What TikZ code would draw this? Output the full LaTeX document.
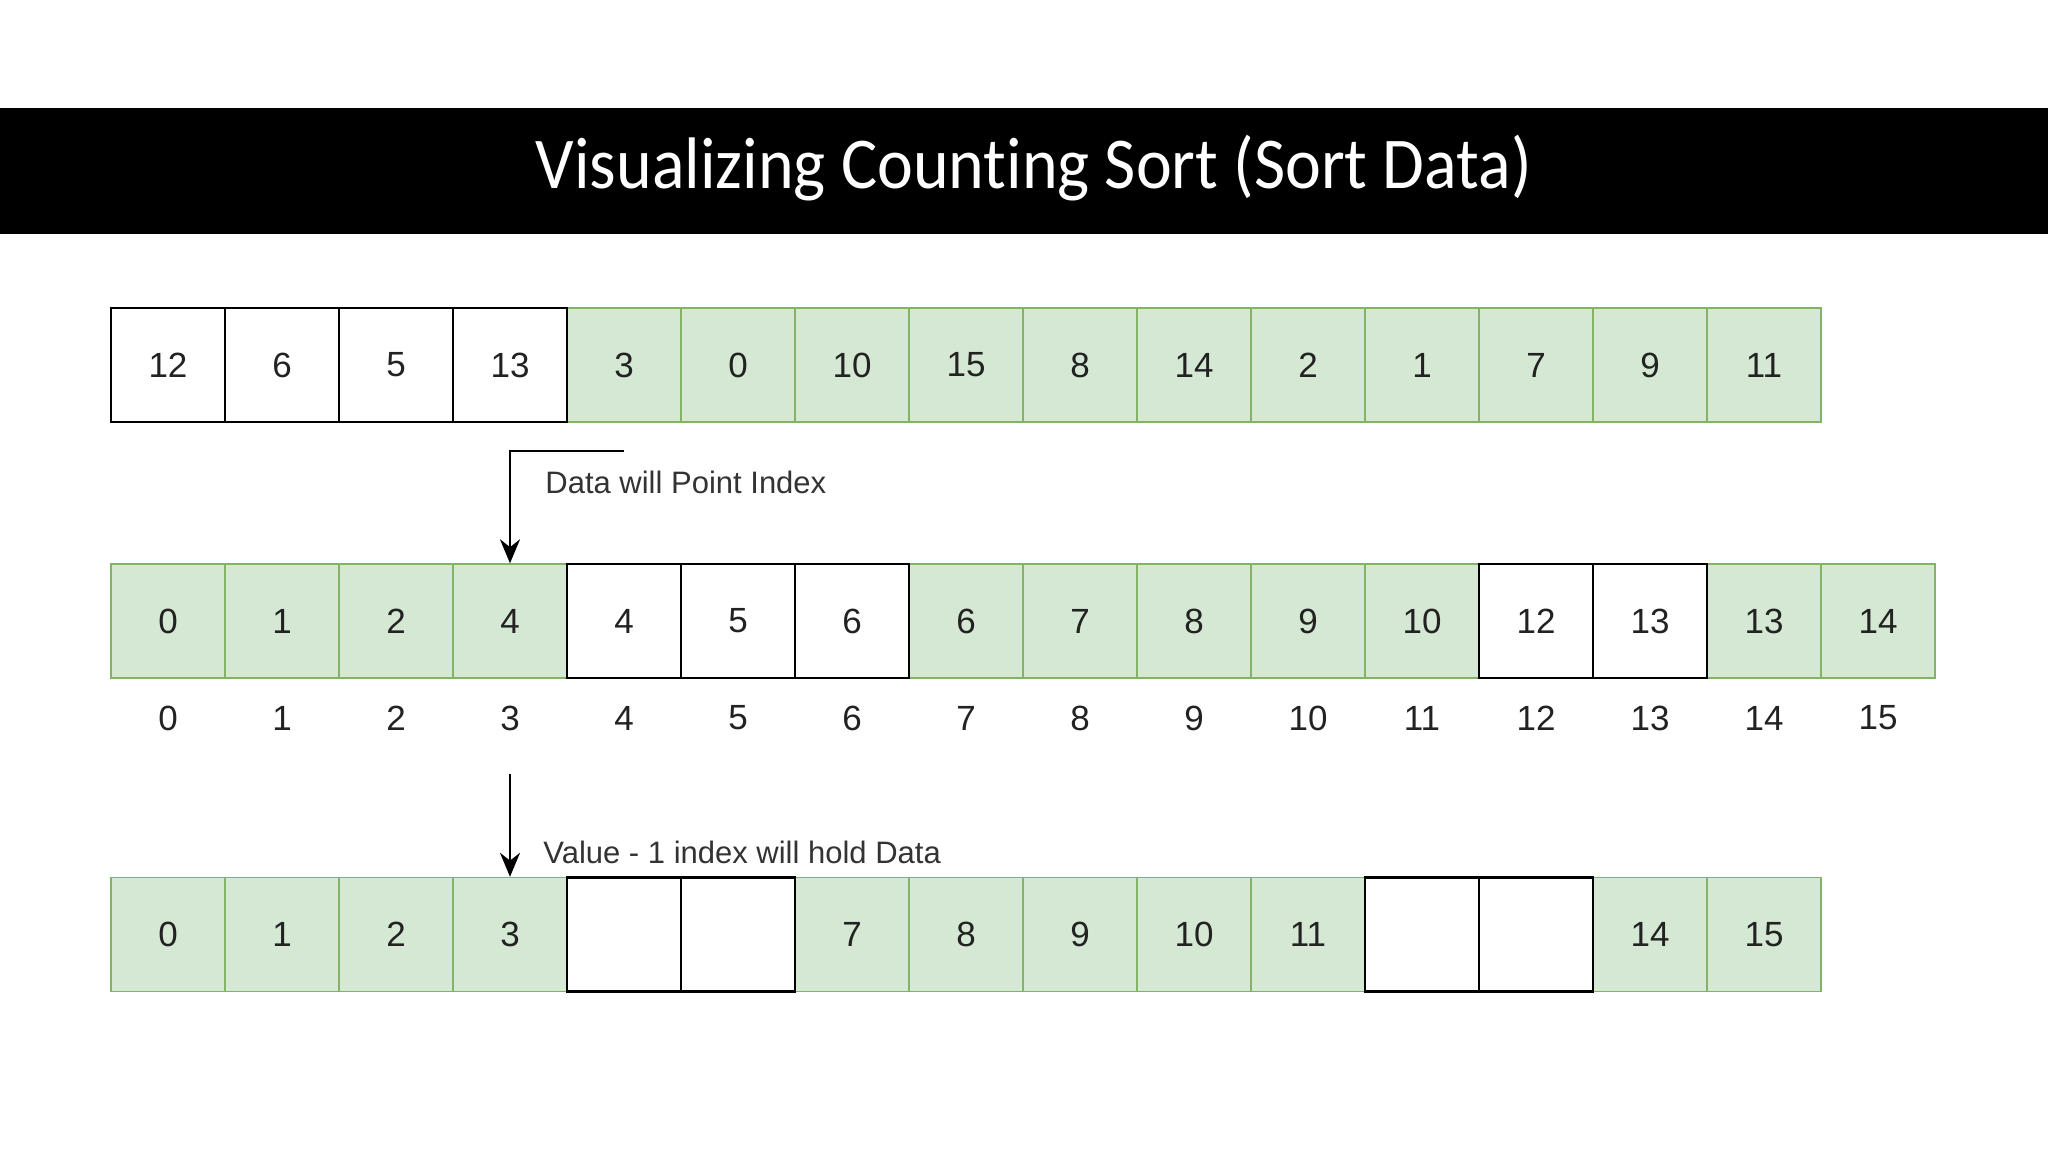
\documentclass[tikz,border=0pt]{standalone}
\usepackage{fontspec}
\setmainfont{Liberation Sans}
\newfontfamily\titulofonte[FakeStretch=0.93,Ligatures=NoCommon]{Carlito}
\usepackage{tikz}
\usetikzlibrary{arrows.meta}
\definecolor{verdefundo}{HTML}{D5E8D4}
\definecolor{verdeborda}{HTML}{82B366}
\definecolor{textocel}{HTML}{222222}
\tikzset{
celula/.style = {minimum size=57pt, inner sep=0pt, text=textocel,
        font=\fontsize{17.5}{20}\selectfont}
}
\tikzset{
verde/.style = {celula, fill=verdefundo, draw=verdeborda, line width=0.7pt},
branca/.style = {celula, fill=white, draw=black, line width=1.2pt}
}
\tikzset{
indice/.style = {text=textocel, font=\fontsize{17.5}{20}\selectfont},
rotulo/.style = {anchor=west, inner sep=1pt, text=black!80, font=\fontsize{15.5}{18}\selectfont},
seta/.style = {-{Stealth[length=12pt,width=10pt]}, line width=1.2pt}
}

\begin{document}
\begin{tikzpicture}[x=0.5pt,y=-0.5pt]
        \useasboundingbox (0,0) rectangle (2048,1152);

        % titulo
        \fill[black] (0,108) rectangle (2048,234);
        \node[text=white, font=\titulofonte\fontsize{36.5}{40}\selectfont] (titulo) at (1034,168)
            {Visualizing Counting Sort (Sort Data)};

        % vetor de dados
        \foreach \v/\i in {3/4,0/5,10/6,15/7,8/8,14/9,2/10,1/11,7/12,9/13,11/14}
            \node[verde] (d-\i) at (168+114*\i,365) {\v};
        \foreach \v/\i in {12/0,6/1,5/2,13/3}
            \node[branca] (d-\i) at (168+114*\i,365) {\v};

        % vetor de contagem
        \foreach \v/\i in {0/0,1/1,2/2,4/3,6/7,7/8,8/9,9/10,10/11,13/14,14/15}
            \node[verde] (c-\i) at (168+114*\i,621) {\v};
        \foreach \v/\i in {4/4,5/5,6/6,12/12,13/13}
            \node[branca] (c-\i) at (168+114*\i,621) {\v};
        \foreach \i in {0,...,15}
            \node[indice] (idx-\i) at (168+114*\i,718) {\i};

        % vetor ordenado
        \foreach \v/\i in {0/0,1/1,2/2,3/3,7/6,8/7,9/8,10/9,11/10,14/13,15/14}
            \node[verde] (s-\i) at (168+114*\i,934.5) {\v};
        \foreach \i in {4,5,11,12}
            \node[branca] (s-\i) at (168+114*\i,934.5) {};

        % setas
        \coordinate (ini1) at (624,451);
        \draw[seta] (ini1) -| (c-3.north);
        \node[rotulo] (txt1) at (543,482) {Data will Point Index};

        \coordinate (ini2) at (510,774);
        \draw[seta] (ini2) -- (s-3.north);
        \node[rotulo] (txt2) at (541,852) {Value - 1 index will hold Data};
    \end{tikzpicture}
\end{document}
